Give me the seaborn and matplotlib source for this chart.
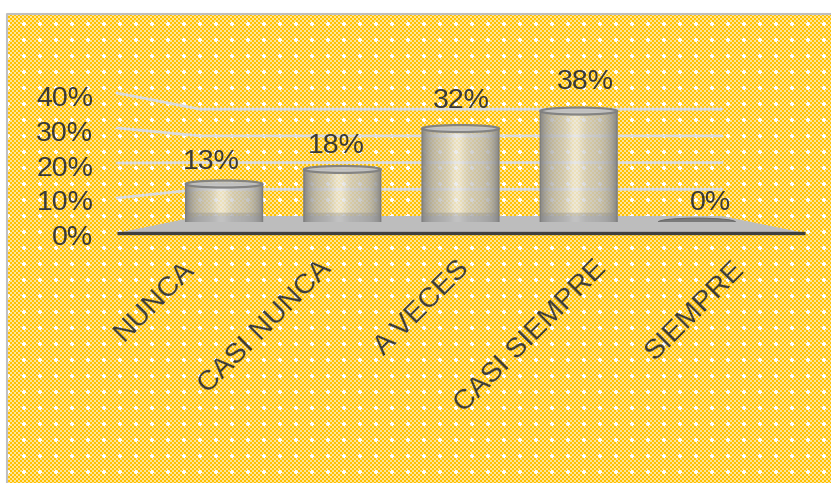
import numpy as np
import pandas as pd
import matplotlib
matplotlib.use("Agg")
import matplotlib.pyplot as plt
import seaborn as sns
from matplotlib.patches import Ellipse, Polygon
from matplotlib.transforms import ScaledTranslation

# ---- data ----
categories = ["NUNCA", "CASI NUNCA", "A VECES", "CASI SIEMPRE", "SIEMPRE"]
percentages = [13, 18, 32, 38, 0]
y_ticks = [0, 10, 20, 30, 40]
y_tick_labels = ["0%", "10%", "20%", "30%", "40%"]

W, H = 831, 483
TEXT = "#3A3A3A"
FONT = "Liberation Sans"
FS = 20.5

sns.set_style("white")
plt.rcParams["font.family"] = [FONT, "DejaVu Sans"]

fig = plt.figure(figsize=(W / 100, H / 100), dpi=100)
fig.patch.set_facecolor("white")


def frac(x0, y_top, x1, y_bot):
    """Pixel box (origin top-left) -> figure fraction rect."""
    return [x0 / W, 1 - y_bot / H, (x1 - x0) / W, (y_bot - y_top) / H]


# ---- background layer: textured chart area, floor, walls ----
bg = fig.add_axes([0, 0, 1, 1])
bg.set_xlim(0, W)
bg.set_ylim(H, 0)
bg.axis("off")

yy, xx = np.mgrid[0:H, 0:W]
cell = ((xx // 2) + (yy // 2)) % 2
gold = np.array([1.0, 0.76, 0.0])
pale = np.array([1.0, 0.90, 0.60])
tex = np.where(cell[..., None] == 0, gold, pale)
mx, my = xx % 16, yy % 16
cross = ((mx >= 6) & (mx <= 9) & (my >= 7) & (my <= 8)) | \
        ((mx >= 7) & (mx <= 8) & (my >= 6) & (my <= 9))
tex[cross] = 1.0
bg.imshow(tex[14:, 7:], extent=(7, W, H, 14), interpolation="nearest",
          aspect="auto", zorder=0)
bg.plot([6.5, 6.5, W], [H, 13.5, 13.5], color="#BFBFBF", lw=1.5, zorder=1)

# perspective frame of the plot area
front_l, front_r, front_y = 117, 805, 233
back_l, back_r, back_y = 200, 722, 216
front_scale, back_scale = 3.5, 2.67
bg.add_patch(Polygon([(front_l, front_y), (back_l, back_y), (back_r, back_y),
                      (front_r, front_y)], closed=True,
                     facecolor="#BDBDBD", edgecolor="none", zorder=2))
bg.plot([front_l, front_r], [front_y, front_y], color="#3F3F3F",
        lw=2.4, solid_capstyle="butt", zorder=3)
for v in y_ticks[1:]:
    yf = front_y - front_scale * v
    yb = back_y - back_scale * v
    bg.plot([front_l, back_l, back_r], [yf, yb, yb], color="#DCDCDC",
            lw=2.0, zorder=2)

# ---- front axis: value and category labels ----
axf = fig.add_axes(frac(front_l, 96, front_r, 235))
axf.patch.set_alpha(0)
axf.set_xlim(-0.5, len(categories) - 0.5)
axf.set_ylim(0, 40)
axf.set_yticks(y_ticks)
axf.set_yticklabels(y_tick_labels)
axf.set_xticks(range(len(categories)))
axf.set_xticklabels(categories, rotation=45, ha="right",
                    rotation_mode="anchor")
axf.tick_params(length=0, labelsize=FS, labelcolor=TEXT)
axf.tick_params(axis="y", pad=17)
axf.tick_params(axis="x", pad=15)
for lab in axf.get_xticklabels():
    lab.set_transform(lab.get_transform() +
                      ScaledTranslation(-5 / 100, 0, fig.dpi_scale_trans))
sns.despine(ax=axf, left=True, bottom=True)

# ---- bars: cylinders ----
bar_px = 2.92
axb = fig.add_axes(frac(165, 222 - bar_px * 50, 756, 222))
axb.patch.set_alpha(0)
df = pd.DataFrame({"categoria": categories, "porcentaje": percentages})
sns.barplot(data=df, x="categoria", y="porcentaje", ax=axb, color="#B0B0B0",
            width=0.65, saturation=1, edgecolor="none", zorder=3)
axb.set_xlim(-0.5, len(categories) - 0.5)
axb.set_ylim(0, 50)
axb.axis("off")

ell_h = 7.0 / bar_px  # ellipse height in data units
prof = np.linspace(-1, 1, 240)
hl = np.exp(-((prof + 0.08) / 0.22) ** 2)          # central highlight
shade = 0.52 + 0.28 * (1 - np.abs(prof) ** 3) + 0.14 * hl
alpha = 0.74 + 0.24 * np.abs(prof) ** 4
rgba = np.zeros((1, prof.size, 4))
rgba[0, :, 0] = shade
rgba[0, :, 1] = shade
rgba[0, :, 2] = shade
rgba[0, :, 3] = np.clip(alpha, 0, 1)

for patch, val in zip(axb.patches, percentages):
    x0 = patch.get_x()
    w = patch.get_width()
    xc = x0 + w / 2
    if val <= 0:
        patch.set_visible(False)
        axb.add_patch(Ellipse((xc, 0), w, ell_h * 1.1, facecolor="#7A7A7A",
                              edgecolor="#6A6A6A", lw=0.8, zorder=5))
        continue
    patch.set_alpha(0.25)
    t = np.linspace(np.pi, 2 * np.pi, 60)
    arc = np.column_stack([xc + w / 2 * np.cos(t), ell_h / 2 * np.sin(t)])
    body = np.vstack([[x0, val], [x0, 0], arc[1:-1], [x0 + w, 0],
                      [x0 + w, val]])
    clip = Polygon(body, closed=True, facecolor="none", edgecolor="#7F7F7F",
                   lw=1.0, zorder=6)
    axb.add_patch(clip)
    im = axb.imshow(rgba, extent=(x0, x0 + w, -ell_h, val), aspect="auto",
                    interpolation="bilinear", zorder=4)
    im.set_clip_path(clip)
    patch.set_clip_path(clip)
    # darker band near the base of the cylinder
    axb.add_patch(Polygon(np.vstack([[x0, 3.2], [x0, 0], arc[1:-1],
                                     [x0 + w, 0], [x0 + w, 3.2]]),
                          closed=True, facecolor="#8A8A8A", alpha=0.35,
                          edgecolor="none", zorder=5))
    axb.add_patch(Ellipse((xc, val), w, ell_h, facecolor="#C4C4C4",
                          alpha=0.92, edgecolor="#7E7E7E", lw=1.6, zorder=7))
axb.set_xlim(-0.5, len(categories) - 0.5)
axb.set_ylim(0, 50)

# ---- value labels ----
lab_px = 3.18
axl = fig.add_axes(frac(461 - 2.5 * 124.6, 210 - lab_px * 50,
                        461 + 2.5 * 124.6, 210))
axl.set_xlim(-0.5, len(categories) - 0.5)
axl.set_ylim(0, 50)
axl.axis("off")
for i, val in enumerate(percentages):
    axl.text(i, val, f"{val}%", ha="center", va="baseline",
             fontsize=FS, color=TEXT, zorder=8)

fig.savefig("out.png", dpi=100, facecolor=fig.get_facecolor())
